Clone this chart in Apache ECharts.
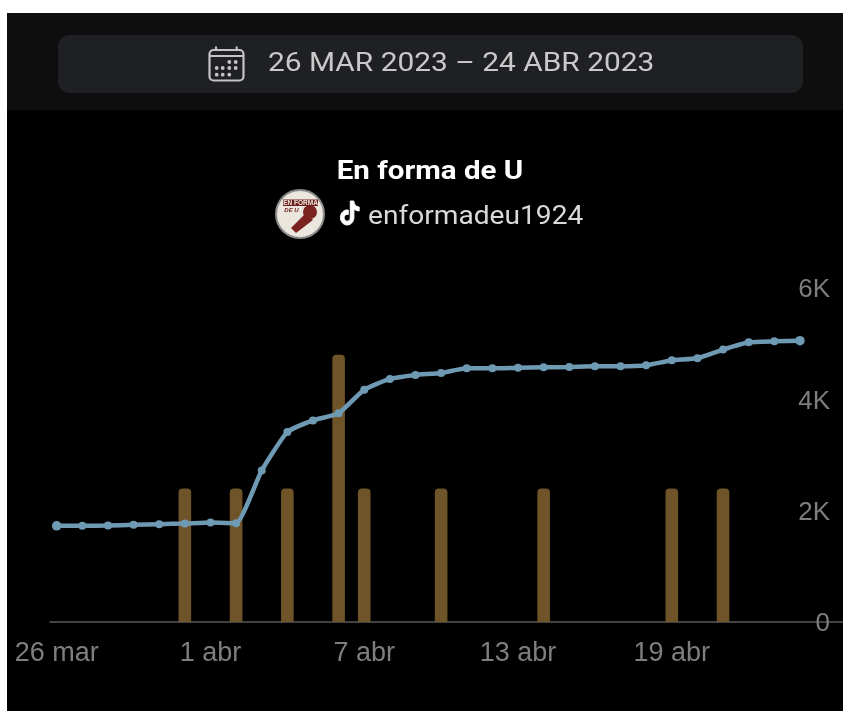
<!DOCTYPE html>
<html><head><meta charset="utf-8">
<style>html,body{margin:0;padding:0;background:#fff}#c{width:843px;height:711px}</style>
<script src="https://cdn.jsdelivr.net/npm/echarts@6/dist/echarts.min.js"></script>
</head><body><div id="c"></div>
<script>
const days = ['26 mar','27 mar','28 mar','29 mar','30 mar','31 mar','1 abr','2 abr','3 abr','4 abr','5 abr','6 abr','7 abr','8 abr','9 abr','10 abr','11 abr','12 abr','13 abr','14 abr','15 abr','16 abr','17 abr','18 abr','19 abr','20 abr','21 abr','22 abr','23 abr','24 abr'];
const followers = [1727,1727,1733,1745,1757,1769,1787,1775,2722,3413,3622,3748,4174,4366,4438,4474,4557,4557,4569,4575,4581,4593,4593,4611,4701,4737,4893,5024,5042,5054];
const videos = [0,0,0,0,0,2400,0,2400,0,2400,0,4800,2400,0,0,2400,0,0,0,2400,0,0,0,0,2400,0,2400,0,0,0];
const xTickIdx = [0,6,12,18,24];
const yTicks = [0,2000,4000,6000];
const yTickLabels = ['0','2K','4K','6K'];
const dateRange = '26 MAR 2023 – 24 ABR 2023';
const title = 'En forma de U';
const handle = 'enformadeu1924';

const tiktok = 'M12.525.02c1.31-.02 2.61-.01 3.91-.02.08 1.53.63 3.09 1.75 4.17 1.12 1.11 2.7 1.62 4.24 1.79v4.03c-1.44-.05-2.89-.35-4.2-.97-.57-.26-1.1-.59-1.62-.93-.01 2.92.01 5.84-.02 8.75-.08 1.4-.54 2.79-1.35 3.94-1.31 1.92-3.58 3.17-5.91 3.21-1.43.08-2.86-.31-4.08-1.03-2.02-1.19-3.44-3.37-3.65-5.71-.02-.5-.03-1-.01-1.49.18-1.9 1.12-3.72 2.58-4.96 1.66-1.44 3.98-2.13 6.15-1.72.02 1.48-.04 2.96-.04 4.44-.99-.32-2.15-.23-3.02.37-.63.41-1.11 1.04-1.36 1.75-.21.51-.15 1.07-.14 1.61.24 1.64 1.82 3.02 3.5 2.87 1.12-.01 2.19-.66 2.77-1.61.19-.33.4-.67.41-1.06.1-1.79.06-3.57.07-5.36.01-4.03-.01-8.05.02-12.07z';
echarts.graphic.registerShape('tiktokNote', echarts.graphic.extendPath(tiktok, {}));

const stroke = {stroke:'#c4c4c4',lineWidth:2.2,fill:'none'};
const calDots = [];
[[229.3,62],[235.7,62],[216.7,68],[222.7,68],[229.3,68],[235.7,68],[216.7,74.7],[222.7,74.7],[229.3,74.7]].forEach(p=>{
  calDots.push({type:'circle',z:2,shape:{cx:p[0],cy:p[1],r:1.9},style:{fill:'#c4c4c4'},silent:true});
});

const chart = echarts.init(document.getElementById('c'),null,{renderer:'canvas'});
chart.setOption({
  animation:false,
  backgroundColor:'#ffffff',
  grid:{left:50,right:0,top:288,bottom:89,containLabel:false},
  xAxis:{type:'value',min:-0.261,max:30.68,
    axisLine:{show:true,onZero:true,lineStyle:{color:'#5c5a58',width:1.5}},
    axisTick:{show:false},splitLine:{show:false},
    axisLabel:{customValues:xTickIdx,formatter:v=>days[v],color:'#7e7e7e',fontSize:27,fontFamily:'Liberation Sans',margin:18,hideOverlap:false,showMinLabel:true,showMaxLabel:true}
  },
  yAxis:{type:'value',min:0,max:6000,position:'right',
    axisLine:{show:false},axisTick:{show:false},splitLine:{show:false},
    axisLabel:{customValues:yTicks,inside:true,margin:13,color:'#7e7e7e',fontSize:26,fontFamily:'Liberation Sans',
      rich:{v:{color:'#7e7e7e',fontSize:26,fontFamily:'Liberation Sans',padding:[4,0,0,0]}},
      formatter:v=>'{v|'+yTickLabels[yTicks.indexOf(v)]+'}'}
  },
  series:[
    {type:'bar',barWidth:12.6,z:2,itemStyle:{color:'#6f5429',borderRadius:[4,4,0,0]},
     data:videos.map((v,i)=>[i,v]).filter(d=>d[1]>0)},
    {type:'line',z:3,smooth:0.15,symbol:'circle',symbolSize:(v,p)=>(p.dataIndex===0||p.dataIndex===days.length-1)?9.5:8,
     lineStyle:{color:'#6f9ab3',width:4.5},itemStyle:{color:'#6f9ab3'},
     data:followers.map((v,i)=>[i,v])}
  ],
  graphic:[
    {type:'rect',z:-10,shape:{x:7,y:13,width:836,height:698},style:{fill:'#000000'},silent:true},
    {type:'rect',z:-9,shape:{x:7,y:13,width:836,height:97},style:{fill:'#0e0e0e'},silent:true},
    {type:'rect',z:-8,shape:{x:58,y:35,width:745,height:58,r:12},style:{fill:'#1f2024'},silent:true},
    {type:'rect',z:2,shape:{x:209.5,y:50,width:34,height:30.5,r:4},style:stroke,silent:true},
    {type:'line',z:2,shape:{x1:209.5,y1:56,x2:243.5,y2:56},style:stroke,silent:true},
    {type:'line',z:2,shape:{x1:216,y1:46.5,x2:216,y2:50},style:stroke,silent:true},
    {type:'line',z:2,shape:{x1:236.7,y1:46.5,x2:236.7,y2:50},style:stroke,silent:true},
    ...calDots,
    {type:'text',z:2,x:268,y:65,scaleX:1.195,style:{text:dateRange,fill:'#c9c9c9',font:'400 25px Roboto',textVerticalAlign:'middle'},silent:true},
    {type:'text',z:2,x:430,y:173,scaleX:1.18,style:{text:title,fill:'#ffffff',font:'700 25px Roboto',textAlign:'center',textVerticalAlign:'middle'},silent:true},
    {type:'circle',z:2,shape:{cx:300,cy:214,r:24},style:{fill:'#ebe7df',stroke:'#8b8b8b',lineWidth:2},silent:true},
    {type:'rect',z:3,shape:{x:283,y:199.5,width:35,height:6.5},style:{fill:'#6e1f1c'},silent:true},
    {type:'text',z:4,x:300.5,y:203,style:{text:'EN FORMA',fill:'#ebe7df',font:'700 6.5px Liberation Sans',textAlign:'center',textVerticalAlign:'middle'},silent:true},
    {type:'text',z:3,x:291.5,y:210,style:{text:'DE U',fill:'#6e1f1c',font:'italic 700 6px Liberation Sans',textAlign:'center',textVerticalAlign:'middle'},silent:true},
    {type:'polygon',z:3,shape:{points:[[291,228],[306,213],[313,220],[296,233]]},style:{fill:'#7a2320'},silent:true},
    {type:'circle',z:3,shape:{cx:310,cy:212,r:7},style:{fill:'#7a2320'},silent:true},
    {type:'tiktokNote',z:2,x:339,y:201,scaleX:0.9,scaleY:1,style:{fill:'#ffffff',stroke:'#ffffff',lineWidth:1},silent:true},
    {type:'text',z:2,x:368,y:218,scaleX:1.125,style:{text:handle,fill:'#d9d9d9',font:'400 25px Roboto',textVerticalAlign:'middle'},silent:true}
  ]
});
</script></body></html>
